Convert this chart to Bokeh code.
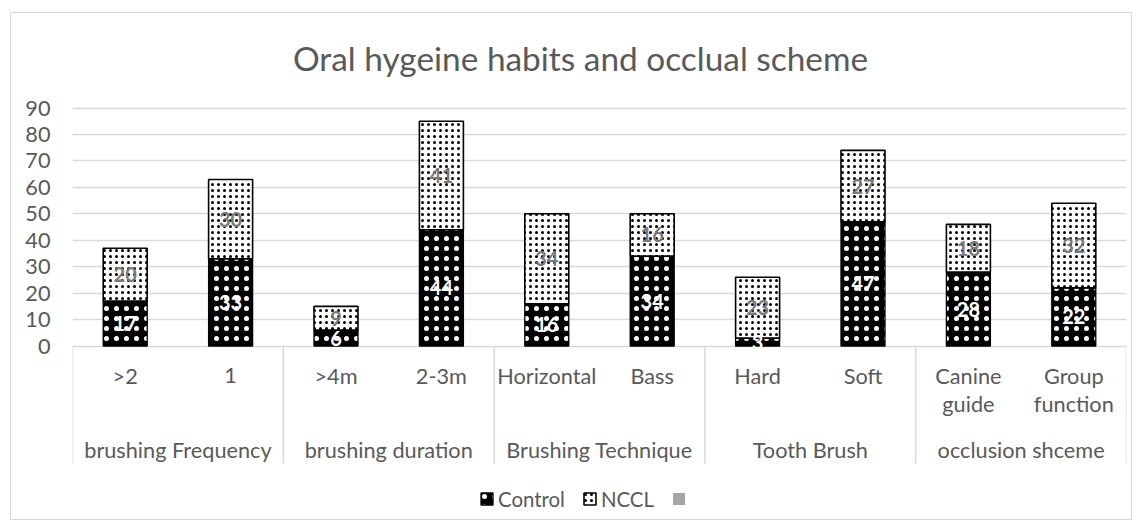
from bokeh.plotting import figure
from bokeh.models import (ColumnDataSource, FixedTicker, Legend, LegendItem,
                          Range1d)
from bokeh.core.properties import value
from bokeh.embed import file_html
from bokeh.resources import INLINE

# ---------------- data ----------------
title_text = "Oral hygeine habits and occlual scheme"
groups = ["brushing Frequency", "brushing duration", "Brushing Technique",
          "Tooth Brush", "occlusion shceme"]
subcats = [">2", "1", ">4m", "2-3m", "Horizontal", "Bass", "Hard", "Soft",
           "Canine\nguide", "Group\nfunction"]
control = [17, 33, 6, 44, 16, 34, 3, 47, 28, 22]
nccl = [20, 30, 9, 41, 34, 16, 23, 27, 18, 32]
third = [0, 0, 0, 0, 0, 0, 0, 0, 0, 0]   # empty third series (legend only)
series_names = ["Control", "NCCL", " "]
y_ticks = [0, 10, 20, 30, 40, 50, 60, 70, 80, 90]

# ---------------- style ----------------
FONT = "Lato"
GREY = "#595959"
LABEL_GREY = "#7a7a7a"
GRID = "#d9d9d9"
BAR_W = 0.4175
AX_FS = "21.7px"

n = len(subcats)
xs = [i + 0.5 for i in range(n)]
line1 = [s.split("\n")[0] for s in subcats]
line2 = [s.split("\n")[1] if "\n" in s else "" for s in subcats]
nccl_top = [c + v for c, v in zip(control, nccl)]
ctl_mid = [c / 2 for c in control]
nccl_mid = [c + v / 2 for c, v in zip(control, nccl)]
group_x = [2 * i + 1 for i in range(len(groups))]
sep_x = [2 * i for i in range(len(groups) + 1)]

src = ColumnDataSource(dict(x=xs, control=control, nccl=nccl, top=nccl_top,
                            third=third, ctl_mid=ctl_mid, nccl_mid=nccl_mid,
                            ctl_lbl=[str(v) for v in control],
                            nccl_lbl=[str(v) for v in nccl],
                            l1=line1, l2=line2, zero=[0] * n))

p = figure(width=1122, height=508, output_backend="svg", toolbar_location=None,
           x_range=Range1d(0, 10), y_range=Range1d(-65.6, 125.0),
           min_border_left=61, min_border_right=7, min_border_top=2,
           min_border_bottom=2)
p.styles = {"border": "1px solid #d9d9d9", "margin-left": "10px", "margin-top": "12px"}
p.outline_line_color = None
p.background_fill_color = "white"
p.border_fill_color = "white"

p.xaxis.visible = False
p.xgrid.grid_line_color = None
p.yaxis.ticker = FixedTicker(ticks=y_ticks)
p.ygrid.ticker = FixedTicker(ticks=y_ticks)
p.ygrid.grid_line_color = GRID
p.ygrid.grid_line_width = 1.3
p.yaxis.axis_line_color = None
p.yaxis.major_tick_line_color = None
p.yaxis.minor_tick_line_color = None
p.yaxis.major_tick_out = 0
p.yaxis.major_label_standoff = 22
p.yaxis.major_label_text_font = FONT
p.yaxis.major_label_text_font_size = AX_FS
p.yaxis.major_label_text_color = GREY

r_ctl = p.vbar(x="x", bottom="zero", top="control", width=BAR_W, source=src,
               fill_color="black", line_color="black", line_width=1.3,
               hatch_pattern="dot", hatch_color="white", hatch_scale=10,
               hatch_weight=0.4)
r_nccl = p.vbar(x="x", bottom="control", top="top", width=BAR_W, source=src,
                fill_color="white", line_color="black", line_width=1.6,
                hatch_pattern="dot", hatch_color="black", hatch_scale=6,
                hatch_weight=0.4)
r_third = p.vbar(x="x", bottom="top", top="top", width=BAR_W, source=src,
                 fill_color="#a5a5a5", line_color=None)

# data labels
p.text(x="x", y="ctl_mid", text="ctl_lbl", source=src, text_align="center",
       text_baseline="middle", text_font=value(FONT), text_font_style="bold",
       text_font_size="20px", text_color="white")
p.text(x="x", y="nccl_mid", text="nccl_lbl", source=src, text_align="center",
       text_baseline="middle", text_font=value(FONT), text_font_style="bold",
       text_font_size="20px", text_color=LABEL_GREY)

# category axis (hand-built hierarchical axis)
p.segment(x0=sep_x, y0=[0] * len(sep_x), x1=sep_x, y1=[-44.4] * len(sep_x),
          line_color=GRID, line_width=1.5)
p.text(x="x", y=-11.3, text="l1", source=src, text_align="center",
       text_baseline="alphabetic", text_font=value(FONT), text_font_size=AX_FS,
       text_color=GREY)
p.text(x="x", y=-21.8, text="l2", source=src, text_align="center",
       text_baseline="alphabetic", text_font=value(FONT), text_font_size=AX_FS,
       text_color=GREY)
p.text(x=group_x, y=[-39.4] * len(groups), text=groups, text_align="center",
       text_baseline="alphabetic", text_font=value(FONT), text_font_size=AX_FS,
       text_color=GREY)

# title
p.text(x=[4.82], y=[109.1], text=[title_text], text_align="center",
       text_baseline="alphabetic", text_font=value(FONT), text_font_size="33.4px",
       text_color=GREY)

legend = Legend(items=[LegendItem(label=series_names[0], renderers=[r_ctl]),
                       LegendItem(label=series_names[1], renderers=[r_nccl]),
                       LegendItem(label=series_names[2], renderers=[r_third])],
                location=(407, 8.5), orientation="horizontal",
                glyph_width=15, glyph_height=15, label_height=15,
                label_standoff=4, spacing=17, padding=0, margin=0,
                border_line_color=None, background_fill_alpha=0,
                label_text_font=FONT, label_text_font_size="20.4px",
                label_text_color=GREY, label_text_baseline="middle")
p.add_layout(legend, "center")

open("out.html", "w").write(file_html(p, INLINE))
